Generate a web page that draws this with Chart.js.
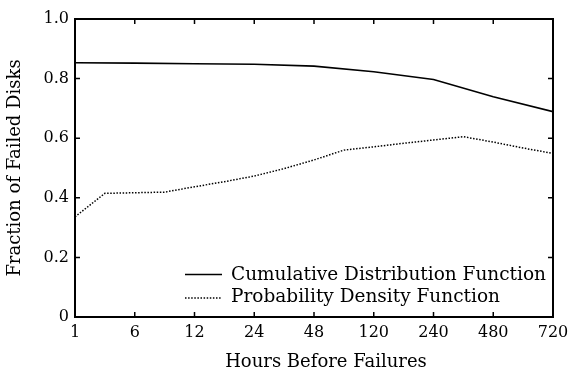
<!DOCTYPE html>
<html><head><meta charset="utf-8">
<script src="https://cdn.jsdelivr.net/npm/chart.js@4"></script>
<style>html,body{margin:0;padding:0;background:#fff}#wrap{width:571px;height:371px}</style>
</head><body><div id="wrap"><canvas id="c" width="571" height="371"></canvas></div>
<script>
const hourLabels = ['1','6','12','24','48','120','240','480','720'];
const cdfPos = [0,1,2,3,4,5,6,7,8];
const cdfValues = [0.853,0.852,0.850,0.848,0.842,0.823,0.797,0.739,0.689];
const pdfPos = [0,0.5,1,1.5,2,2.5,3,3.5,4,4.5,5,5.5,6,6.5,7,7.5,8];
const pdfValues = [0.336,0.415,0.417,0.419,0.437,0.454,0.473,0.498,0.527,0.560,0.571,0.583,0.594,0.605,0.587,0.567,0.549];
const yTicks = [0,0.2,0.4,0.6,0.8,1.0];
const seriesNames = ['Cumulative Distribution Function','Probability Density Function'];
const xTitle = 'Hours Before Failures';
const yTitle = 'Fraction of Failed Disks';

const FONT = "'DejaVu Serif', serif";
Chart.defaults.font.family = FONT;
Chart.defaults.font.size = 16;
Chart.defaults.color = '#000';

const toPts = (pos, vals) => pos.map((p, i) => ({x: p, y: vals[i]}));

const framePlugin = {
  id: 'frame',
  afterDatasetsDraw(chart) {
    const {ctx, chartArea: a, scales: {x, y}} = chart;
    ctx.save();
    ctx.strokeStyle = '#000';
    ctx.lineWidth = 2;
    ctx.strokeRect(a.left, a.top, a.right - a.left, a.bottom - a.top);
    ctx.lineWidth = 1.5;
    ctx.beginPath();
    const L = 5;
    hourLabels.forEach((_, i) => {
      const px = x.getPixelForValue(i);
      ctx.moveTo(px, a.bottom); ctx.lineTo(px, a.bottom - L);
      ctx.moveTo(px, a.top); ctx.lineTo(px, a.top + L);
    });
    yTicks.forEach(v => {
      const py = y.getPixelForValue(v);
      ctx.moveTo(a.left, py); ctx.lineTo(a.left + L, py);
      ctx.moveTo(a.right, py); ctx.lineTo(a.right - L, py);
    });
    ctx.stroke();
    // legend
    const ds = chart.data.datasets;
    const rows = [a.bottom - 37, a.bottom - 15];
    ctx.font = '18.5px ' + FONT;
    ctx.fillStyle = '#000';
    ctx.textBaseline = 'alphabetic';
    ctx.textAlign = 'left';
    ds.forEach((d, i) => {
      const yb = rows[i];
      ctx.beginPath();
      ctx.lineWidth = d.borderWidth;
      ctx.setLineDash(d.borderDash || []);
      const ly = i === 0 ? yb - 5.5 : yb - 4;
      ctx.moveTo(a.left + 110, ly); ctx.lineTo(a.left + 147, ly);
      ctx.stroke();
      ctx.setLineDash([]);
      ctx.fillText(d.label, a.left + 156, yb);
    });
    // x axis title
    ctx.font = '18px ' + FONT;
    ctx.textAlign = 'center';
    ctx.textBaseline = 'middle';
    ctx.fillText(xTitle, (a.left + a.right) / 2 + 12, 362);
    ctx.restore();
  }
};

new Chart(document.getElementById('c'), {
  type: 'line',
  data: {
    datasets: [
      {label: seriesNames[0], data: toPts(cdfPos, cdfValues), borderColor: '#000', borderWidth: 1.6, pointRadius: 0, tension: 0, fill: false},
      {label: seriesNames[1], data: toPts(pdfPos, pdfValues), borderColor: '#000', borderWidth: 1.5, borderDash: [1.5, 1.6], pointRadius: 0, tension: 0, fill: false}
    ]
  },
  options: {
    responsive: false,
    animation: false,
    devicePixelRatio: 1,
    layout: {padding: {top: 19, right: 18, left: 0, bottom: 0}},
    plugins: {legend: {display: false}, tooltip: {enabled: false}},
    scales: {
      x: {
        type: 'linear', min: 0, max: hourLabels.length - 1,
        grid: {display: false, drawTicks: false},
        border: {display: false},
        ticks: {stepSize: 1, padding: 6, maxRotation: 0, autoSkip: false,
          callback: v => hourLabels[v] ?? ''},
        title: {display: false},
        afterFit: s => { s.height = 54; s.paddingLeft = 0; s.paddingRight = 0; }
      },
      y: {
        type: 'linear', min: 0, max: 1,
        grid: {display: false, drawTicks: false},
        border: {display: false},
        afterBuildTicks: s => { s.ticks = yTicks.map(v => ({value: v})); },
        ticks: {padding: 6, callback: v => v === 0 ? '0' : v.toFixed(1)},
        title: {display: true, text: yTitle, font: {size: 18}, padding: {top: 5, bottom: 0}},
        afterFit: s => { s.width = 75; s.paddingTop = 0; s.paddingBottom = 0; }
      }
    }
  },
  plugins: [framePlugin]
});
</script></body></html>
